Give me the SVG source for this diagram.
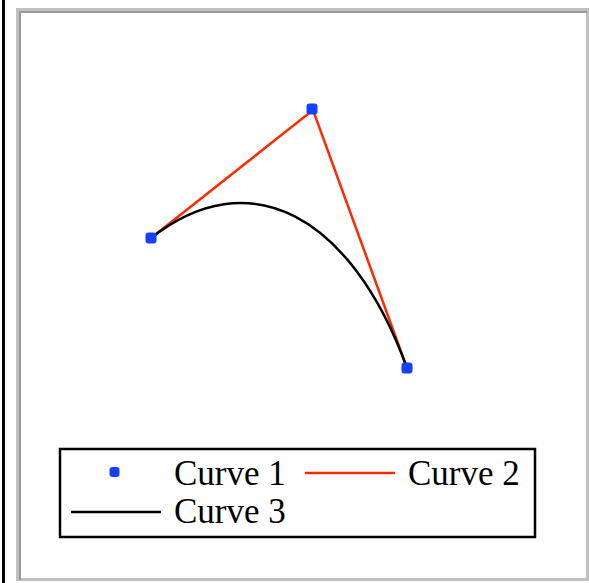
<svg xmlns="http://www.w3.org/2000/svg" width="589" height="583" viewBox="0 0 589 583">
<style>
.lbl{font-family:"Liberation Serif","Times New Roman",serif;font-size:35px;fill:#000}
.red{stroke:#ff2a00;stroke-width:2.5;fill:none}
.blk{stroke:#000;stroke-width:2.5;fill:none}
.pt{fill:#1440ff}
</style>
<rect width="589" height="583" fill="#fff"/>
<line x1="3.5" y1="0" x2="3.5" y2="583" stroke="#000" stroke-width="3"/>
<g id="frame">
<rect x="17.5" y="9.5" width="570" height="570" fill="none" stroke="#c0c0c0" stroke-width="3"/>
<path d="M20 580 V12 H587" fill="none" stroke="#999" stroke-width="2"/>
</g>
<g id="connectors">
<polyline class="red" points="151,238 313,110 407,368"/>
<path class="blk" d="M151,238 C248.2,161.2 350.6,213.2 407,368"/>
</g>
<g id="points">
<rect class="pt" x="145.5" y="232.5" width="11" height="11" rx="3"/>
<rect class="pt" x="306.5" y="103.5" width="11" height="11" rx="3"/>
<rect class="pt" x="401.5" y="362.5" width="11" height="11" rx="3"/>
</g>
<g id="legend">
<rect x="60" y="449" width="475" height="88" fill="#fff" stroke="#000" stroke-width="2.5"/>
<rect class="pt" x="109.5" y="467" width="10" height="10" rx="3"/>
<text class="lbl" x="174" y="485">Curve 1</text>
<line class="red" x1="305" y1="473" x2="395" y2="473"/>
<text class="lbl" x="408" y="485">Curve 2</text>
<line class="blk" x1="71" y1="512" x2="161" y2="512"/>
<text class="lbl" x="174" y="523">Curve 3</text>
</g>
</svg>
